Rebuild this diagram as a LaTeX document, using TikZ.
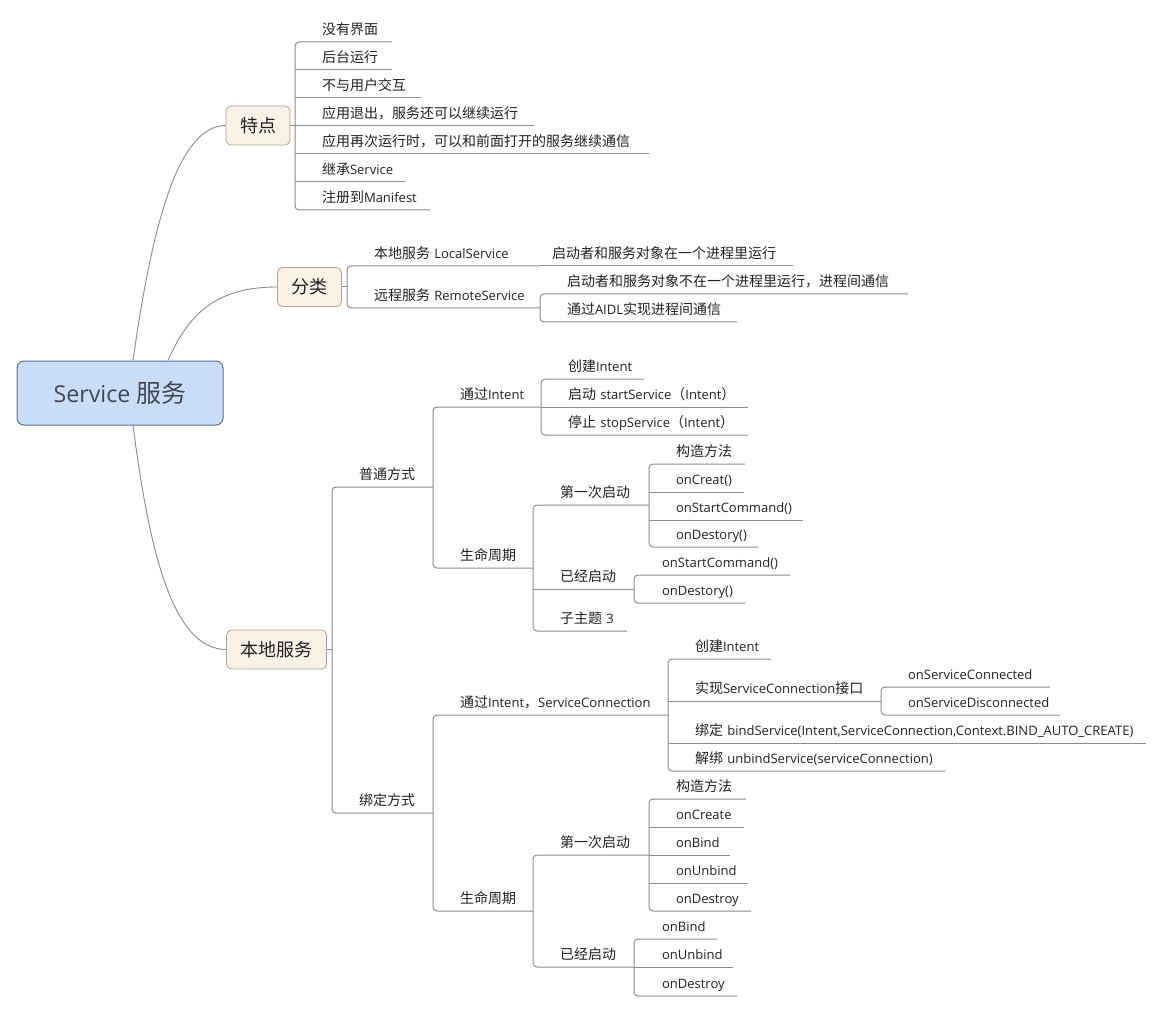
\documentclass[tikz,border=0pt]{standalone}
\usepackage{fontspec}
\setmainfont{Open Sans}[Scale=0.93]
\newfontfamily\latinfont{Open Sans}[Scale=0.93]
\newfontfamily\cjkfont{Noto Sans CJK SC}
\usetikzlibrary{calc}
\setlength{\parindent}{0pt}

% switch to the CJK family for Chinese characters and back for Latin
\XeTeXinterchartokenstate=1
\newXeTeXintercharclass\cjkclass
\count255="3000
\loop \XeTeXcharclass\count255=\cjkclass \advance\count255 by 1 \ifnum\count255<"3040 \repeat
\count255="4E00
\loop \XeTeXcharclass\count255=\cjkclass \advance\count255 by 1 \ifnum\count255<"A000 \repeat
\count255="FF00
\loop \XeTeXcharclass\count255=\cjkclass \advance\count255 by 1 \ifnum\count255<"FFF0 \repeat
\XeTeXinterchartoks 0 \cjkclass = {\cjkfont}
\XeTeXinterchartoks 4095 \cjkclass = {\cjkfont}
\XeTeXinterchartoks \cjkclass 0 = {\latinfont}
\XeTeXinterchartoks \cjkclass 4095 = {\latinfont}

\definecolor{linegray}{HTML}{8C8C8C}
\definecolor{rootfill}{HTML}{C9DDF7}
\definecolor{rootline}{HTML}{5B7191}
\definecolor{roottext}{HTML}{3E4857}
\definecolor{boxfill}{HTML}{FAF1E6}
\definecolor{boxline}{HTML}{B0A390}
\definecolor{topictext}{HTML}{222222}

\tikzset{
  branch/.style={draw=linegray, line width=1pt},
  fork/.style={branch, rounded corners=4pt},
  curveline/.style={draw=linegray, line width=0.9pt},
  centralbox/.style={draw=rootline, fill=rootfill, line width=1pt, rounded corners=7pt,
    minimum width=206pt, minimum height=64pt, text=roottext, font=\fontsize{25}{29}\selectfont},
  mainbox/.style={draw=boxline, fill=boxfill, line width=0.8pt, rounded corners=5pt,
    inner xsep=14pt, minimum height=39pt, text=topictext, font=\fontsize{18}{21}\selectfont},
  topic/.style={anchor=south west, inner xsep=0pt, inner ysep=0pt, outer sep=0pt, align=left,
    text=topictext, font=\fontsize{14}{16}\selectfont, text height=12pt, text depth=7.8pt,
    execute at begin node={\hspace*{#1}\hbox\bgroup}, execute at end node={\egroup}},
  topic/.default=27pt
}

\begin{document}
\begin{tikzpicture}[x=1pt, y=-1pt]
        \path[use as bounding box, fill=white] (0,0) rectangle (1163,1011);

        % Central topic and main branches
        \node (root) at (120,393) [centralbox] {Service 服务};
        \node (tedian) at (258,125.5) [mainbox] {特点};
        \node (fenlei) at (309.5,287) [mainbox] {分类};
        \node (bendi) at (276.5,649.5) [mainbox] {本地服务};

        % Curves out of the central topic
        \draw[curveline] ($(root.north)+(13,0)$) .. controls (150,240) and (175,125.5) .. (tedian.west);
        \draw[curveline] ($(root.north)+(48,0)$) .. controls (190,310) and (220,287) .. (fenlei.west);
        \draw[curveline] ($(root.south)+(13,0)$) .. controls (148,540) and (170,649.5) .. (bendi.west);

        % 特点
        \node (a1) at (295,42) [topic, text width=97pt] {没有界面};
        \node (a2) at (295,70) [topic, text width=97pt] {后台运行};
        \node (a3) at (295,98) [topic, text width=126pt] {不与用户交互};
        \node (a4) at (295,126) [topic, text width=239pt] {应用退出，服务还可以继续运行};
        \node (a5) at (295,154) [topic, text width=354pt] {应用再次运行时，可以和前面打开的服务继续通信};
        \node (a6) at (295,182) [topic, text width=110pt] {继承Service};
        \node (a7) at (295,210) [topic, text width=135pt] {注册到Manifest};

        % 分类
        \node (b1) at (347,266) [topic, text width=193pt] {本地服务 LocalService};
        \node (b1a) at (540,266) [topic=12pt, text width=253pt] {启动者和服务对象在一个进程里运行};
        \node (b2) at (347,308) [topic, text width=193pt] {远程服务 RemoteService};
        \node (b2a) at (540,294) [topic, text width=368pt] {启动者和服务对象不在一个进程里运行，进程间通信};
        \node (b2b) at (540,322) [topic, text width=197pt] {通过AIDL实现进程间通信};

        % 本地服务: 普通方式
        \node (c1) at (332,487) [topic, text width=101pt] {普通方式};
        \node (c1a) at (433,407) [topic, text width=108pt] {通过Intent};
        \node (c1a1) at (541,379) [topic, text width=103pt] {创建Intent};
        \node (c1a2) at (541,407) [topic, text width=207pt] {启动 startService（Intent）};
        \node (c1a3) at (541,435) [topic, text width=207pt] {停止 stopService（Intent）};
        \node (c1b) at (433,568) [topic, text width=100pt] {生命周期};
        \node (c1b1) at (533,505) [topic, text width=116pt] {第一次启动};
        \node (d1) at (649,464) [topic, text width=96pt] {构造方法};
        \node (d2) at (649,492) [topic, text width=95pt] {onCreat()};
        \node (d3) at (649,520) [topic, text width=154pt] {onStartCommand()};
        \node (d4) at (649,547) [topic, text width=109pt] {onDestory()};
        \node (c1b2) at (533,589) [topic, text width=101pt] {已经启动};
        \node (d5) at (634,575) [topic=28pt, text width=156pt] {onStartCommand()};
        \node (d6) at (634,603) [topic=28pt, text width=111pt] {onDestory()};
        \node (c1b3) at (533,631) [topic, text width=94pt] {子主题 3};

        % 本地服务: 绑定方式
        \node (c2) at (332,813) [topic, text width=101pt] {绑定方式};
        \node (c2a) at (433,715) [topic, text width=235pt] {通过Intent，ServiceConnection};
        \node (e1) at (668,659) [topic, text width=103pt] {创建Intent};
        \node (e2) at (668,701) [topic, text width=213pt] {实现ServiceConnection接口};
        \node (e2a) at (881,687) [topic, text width=169pt] {onServiceConnected};
        \node (e2b) at (881,715) [topic, text width=179pt] {onServiceDisconnected};
        \node (e3) at (668,743) [topic, text width=478pt] {绑定 bindService(Intent,ServiceConnection,Context.BIND\_AUTO\_CREATE)};
        \node (e4) at (668,771) [topic, text width=277pt] {解绑 unbindService(serviceConnection)};
        \node (c2b) at (433,911) [topic, text width=100pt] {生命周期};
        \node (c2b1) at (533,855) [topic, text width=116pt] {第一次启动};
        \node (f1) at (649,799) [topic, text width=97pt] {构造方法};
        \node (f2) at (649,827) [topic, text width=95pt] {onCreate};
        \node (f3) at (649,855) [topic, text width=81pt] {onBind};
        \node (f4) at (649,883) [topic, text width=99pt] {onUnbind};
        \node (f5) at (649,911) [topic, text width=102pt] {onDestroy};
        \node (c2b2) at (533,967) [topic, text width=101pt] {已经启动};
        \node (f6) at (634,939) [topic=28pt, text width=83pt] {onBind};
        \node (f7) at (634,967) [topic=28pt, text width=99pt] {onUnbind};
        \node (f8) at (634,996) [topic=28pt, text width=103pt] {onDestroy};

        % Underlines of the topics between first and last
        \foreach \n in {a2,a3,a4,a5,a6,b1a,c1a2,c1b2,d2,d3,e2,e3,f2,f3,f4,f7}
            \draw[branch] (\n.south west) -- (\n.south east);

        % Brackets from first to last child
        \foreach \p/\q in {a1/a7,b1/b2,b2a/b2b,c1/c2,c1a/c1b,c1a1/c1a3,c1b1/c1b3,d1/d4,d5/d6,
                           c2a/c2b,e1/e4,e2a/e2b,c2b1/c2b2,f1/f5,f6/f8}
            \draw[fork] (\p.south east) -- (\p.south west) -- (\q.south west) -- (\q.south east);

        % Main branches into their brackets
        \draw[branch] (tedian.east) -- (tedian.east -| a1.south west);
        \draw[branch] (fenlei.east) -- (fenlei.east -| b1.south west);
        \draw[branch] (bendi.east) -- (bendi.east -| c1.south west);

    \end{tikzpicture}
\end{document}
